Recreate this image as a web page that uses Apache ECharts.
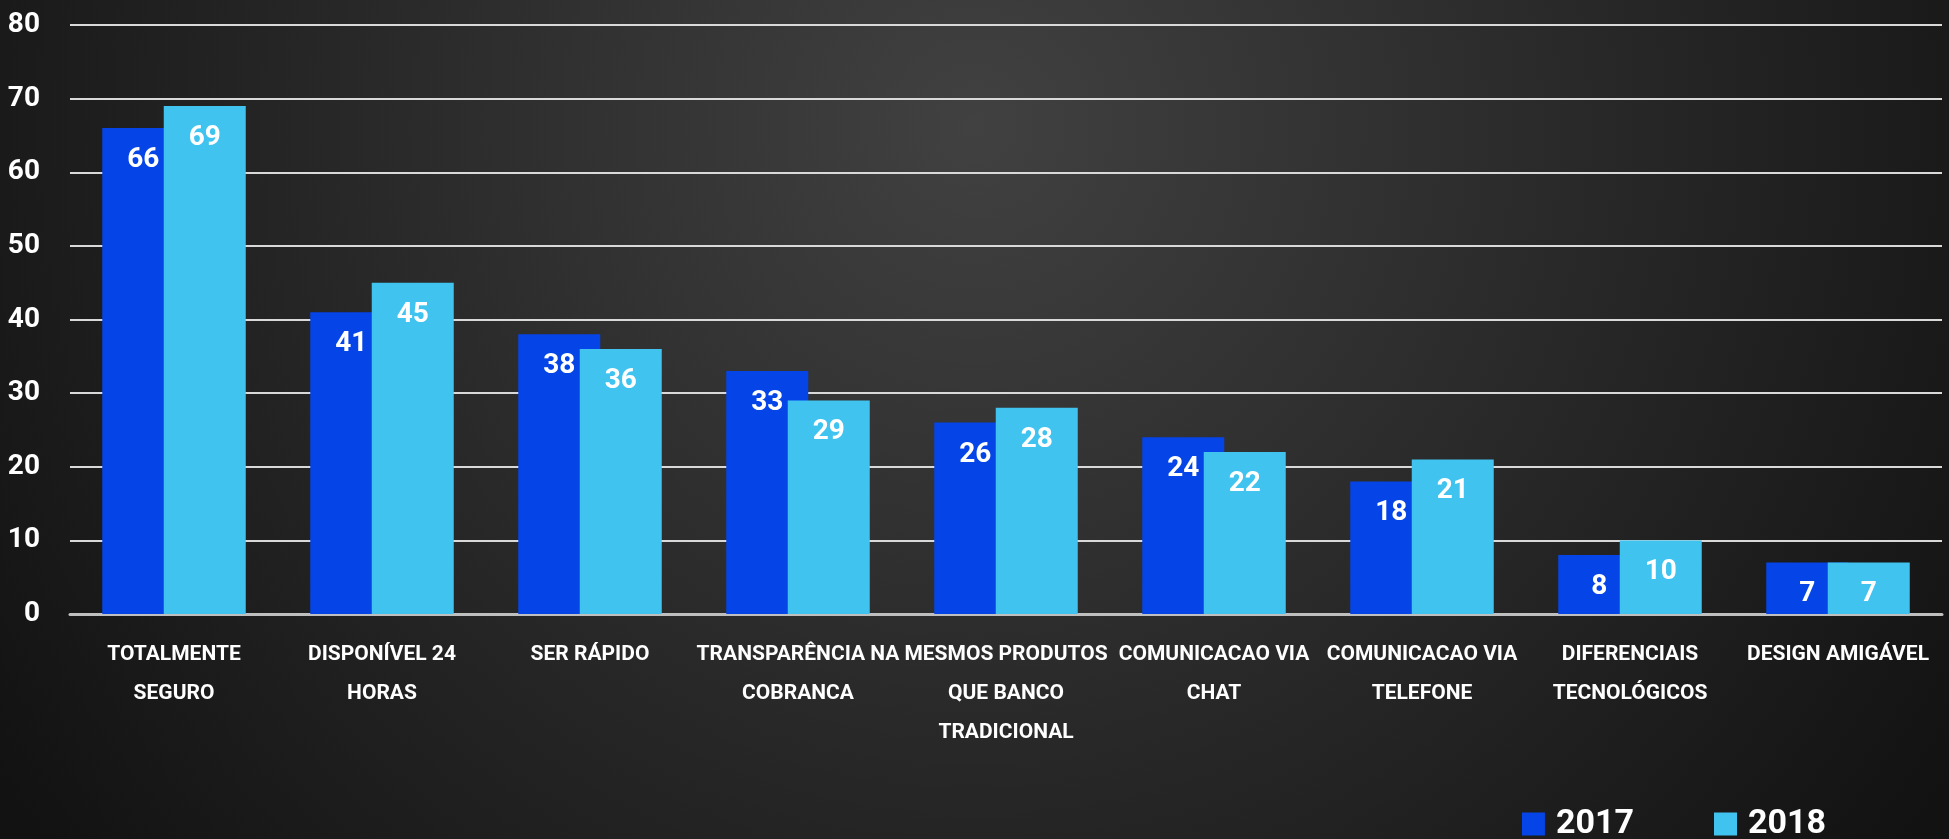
<!DOCTYPE html>
<html>
<head>
<meta charset="utf-8">
<script src="https://cdn.jsdelivr.net/npm/echarts@6/dist/echarts.min.js"></script>
<style>
html,body{margin:0;padding:0;width:1949px;height:839px;overflow:hidden;background:#1a1a1a;}
#chart{width:1949px;height:839px;}
</style>
</head>
<body>
<div id="chart"></div>
<script>
var categories = [
  'TOTALMENTE\nSEGURO',
  'DISPONÍVEL 24\nHORAS',
  'SER RÁPIDO',
  'TRANSPARÊNCIA NA\nCOBRANCA',
  'MESMOS PRODUTOS\nQUE BANCO\nTRADICIONAL',
  'COMUNICACAO VIA\nCHAT',
  'COMUNICACAO VIA\nTELEFONE',
  'DIFERENCIAIS\nTECNOLÓGICOS',
  'DESIGN AMIGÁVEL'
];
var values2017 = [66, 41, 38, 33, 26, 24, 18, 8, 7];
var values2018 = [69, 45, 36, 29, 28, 22, 21, 10, 7];
var seriesNames = ['2017', '2018'];

var FONT = 'Roboto, "Liberation Sans", sans-serif';
var chart = echarts.init(document.getElementById('chart'));
var labelCfg = {
  show: true,
  position: 'insideTop',
  distance: 18,
  color: '#ffffff',
  fontFamily: FONT,
  fontWeight: 'bold',
  fontSize: 28
};
chart.setOption({
  backgroundColor: {
    type: 'radial', x: 0.5, y: 0.15, r: 1.4,
    colorStops: [
      {offset: 0, color: '#414141'},
      {offset: 1, color: '#121212'}
    ]
  },
  animation: false,
  grid: {left: 70, right: 7, top: 25, bottom: 225},
  legend: {
    data: seriesNames,
    right: 123,
    top: 807,
    padding: 0,
    itemWidth: 23,
    itemHeight: 23,
    itemGap: 80,
    icon: 'rect',
    textStyle: {color: '#ffffff', fontFamily: FONT, fontWeight: 'bold', fontSize: 34, padding: [0, 0, 0, 6]}
  },
  xAxis: {
    type: 'category',
    data: categories,
    axisLine: {lineStyle: {color: '#bfbfbf', width: 3}},
    axisTick: {show: false},
    axisLabel: {
      interval: 0,
      margin: 21,
      color: '#ffffff',
      fontFamily: FONT,
      fontWeight: 'bold',
      fontSize: 21,
      lineHeight: 39
    }
  },
  yAxis: {
    type: 'value',
    min: 0,
    max: 80,
    interval: 10,
    axisLine: {show: false},
    axisTick: {show: false},
    splitLine: {lineStyle: {color: '#d9d9d9', width: 2}},
    axisLabel: {
      margin: 30,
      color: '#ffffff',
      fontFamily: FONT,
      fontWeight: 'bold',
      fontSize: 28
    }
  },
  series: [
    {
      name: seriesNames[0],
      type: 'bar',
      data: values2017,
      barWidth: 82,
      barGap: '-25%',
      itemStyle: {color: '#0545E8'},
      label: labelCfg
    },
    {
      name: seriesNames[1],
      type: 'bar',
      data: values2018,
      barWidth: 82,
      barGap: '-25%',
      itemStyle: {color: '#41C3F0'},
      label: labelCfg
    }
  ]
});
</script>
</body>
</html>
